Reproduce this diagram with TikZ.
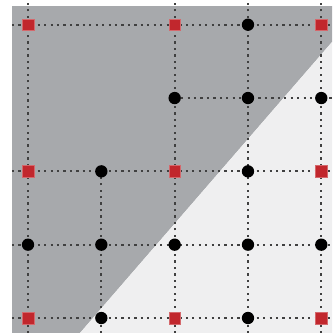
\documentclass[tikz,border=0pt]{standalone}
\usepackage{tikz}
\usetikzlibrary{positioning}
\usepackage{xcolor}
\definecolor{grisoscuro}{HTML}{A7A9AC}
\definecolor{grisclaro}{HTML}{EFEFF0}
\definecolor{rojo}{HTML}{C1272D}

\begin{document}
\begin{tikzpicture}[
  x=2.2cm, y=2.2cm,
  rejilla/.style={draw=black!75, line width=1.8pt, dash pattern=on 1.9pt off 3.6pt},
  cuadro/.style={rectangle, fill=rojo, draw=rojo!70!white, line width=0.4pt, inner sep=0pt, minimum size=0.35cm},
  punto/.style={circle, fill=black, inner sep=0pt, minimum size=0.37cm}
]
\useasboundingbox (-0.382,-0.2045) rectangle (4.146,4.337);
% fondo
\fill[grisoscuro] (-0.218,4.255) -- (4.146,4.255) -- (4.146,3.764) -- (0.709,-0.2045) -- (-0.218,-0.2045) -- cycle;
\fill[grisclaro] (4.146,3.764) -- (4.146,-0.2045) -- (0.709,-0.2045) -- cycle;
% lineas de la rejilla
\foreach \y in {0,1,2,4} \draw[rejilla] (-0.22,\y) -- (4.3,\y);
\foreach \x in {0,2,3,4} \draw[rejilla] (\x,-0.3) -- (\x,4.3);
\draw[rejilla] (2,3) -- (4.3,3);
\draw[rejilla] (1,-0.3) -- (1,2);
% vertices rojos
\node[cuadro] (r00) at (0,0) {};
\node[cuadro] (r20) at (2,0) {};
\node[cuadro] (r40) at (4,0) {};
\node[cuadro] (r02) at (0,2) {};
\node[cuadro] (r22) at (2,2) {};
\node[cuadro] (r42) at (4,2) {};
\node[cuadro] (r04) at (0,4) {};
\node[cuadro] (r24) at (2,4) {};
\node[cuadro] (r44) at (4,4) {};
% puntos negros
\node[punto] (n34) at (3,4) {};
\node[punto] (n23) at (2,3) {};
\node[punto] (n33) at (3,3) {};
\node[punto] (n43) at (4,3) {};
\node[punto] (n12) at (1,2) {};
\node[punto] (n32) at (3,2) {};
\node[punto] (n01) at (0,1) {};
\node[punto] (n11) at (1,1) {};
\node[punto] (n21) at (2,1) {};
\node[punto] (n31) at (3,1) {};
\node[punto] (n41) at (4,1) {};
\node[punto] (n10) at (1,0) {};
\node[punto] (n30) at (3,0) {};
\end{tikzpicture}
\end{document}
